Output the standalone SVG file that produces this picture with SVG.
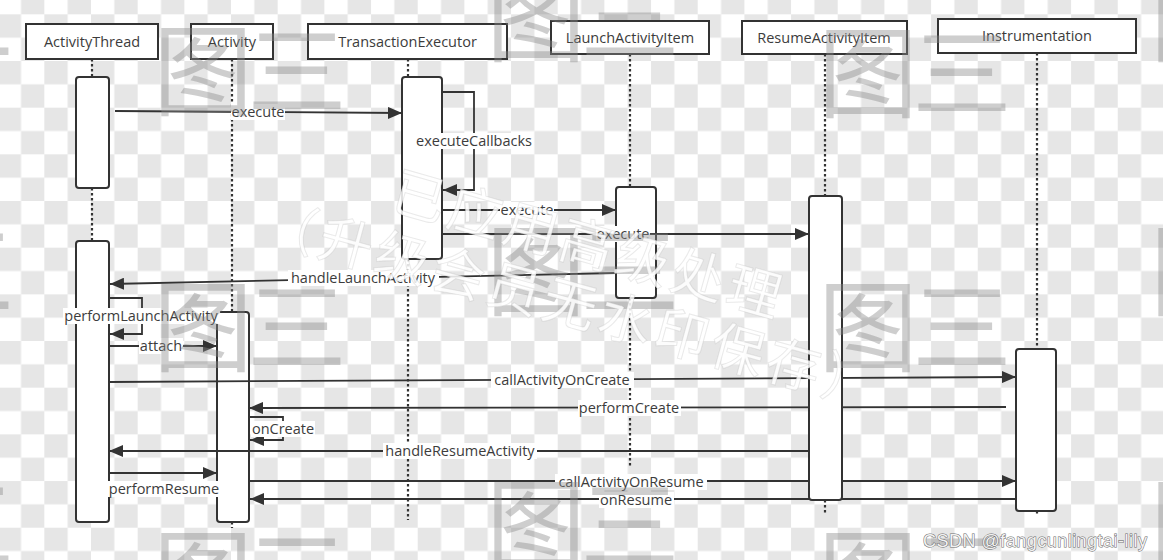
<svg xmlns="http://www.w3.org/2000/svg" width="1163" height="560" viewBox="0 0 1163 560">
<style>
.box{fill:#fff;stroke:#333;stroke-width:2}
.act{fill:#fff;stroke:#333;stroke-width:2}
.life{stroke:#333;stroke-width:2.2;stroke-dasharray:2.5 2.5;fill:none}
.msg{stroke:#333;stroke-width:1.8;fill:none}
.t{font-family:"Open Sans","Noto Sans",sans-serif;font-size:14.5px;fill:#3c3c3c;text-anchor:middle}
.lb{fill:#fff}
.wm{font-family:"Noto Sans CJK SC",sans-serif;font-size:100px;fill:#8a8a8a;fill-opacity:0.42;letter-spacing:-6px}
.wt{font-family:"Noto Sans CJK SC",sans-serif;font-size:54px;fill:#fff;fill-opacity:0.85;stroke:#aaa;stroke-opacity:0.25;stroke-width:1;text-anchor:middle;letter-spacing:4px}
</style>
<defs>
<pattern id="chk" patternUnits="userSpaceOnUse" x="-2.33" y="14.33" width="46.67" height="46.67">
<rect width="46.67" height="46.67" fill="#fff"/>
<rect width="23.33" height="23.33" fill="#e6e6e6"/>
<rect x="23.33" y="23.33" width="23.33" height="23.33" fill="#e6e6e6"/>
</pattern>
<marker id="arr" markerUnits="userSpaceOnUse" markerWidth="14" markerHeight="12" refX="14" refY="6" orient="auto">
<path d="M0,0 L14,6 L0,12 z" fill="#333"/>
</marker>
<text id="wm" class="wm" x="0" y="0">图三</text>
</defs>
<rect width="1163" height="560" fill="url(#chk)"/>

<g id="node-ActivityThread">
<path class="life" d="M92,59 V77 M92,188 V241"/>
<rect class="box" x="26" y="24" width="132" height="35"/>
<text class="t" x="92" y="47">ActivityThread</text>
<rect class="act" x="76" y="77" width="33" height="111" rx="3"/>
<rect class="act" x="76" y="241" width="33" height="281" rx="3"/>
</g>
<g id="node-Activity">
<path class="life" d="M232,59 V312 M232,522 V528"/>
<rect class="box" x="191" y="24" width="82" height="35"/>
<text class="t" x="232" y="47">Activity</text>
<rect class="act" x="217" y="312" width="32" height="210" rx="3"/>
</g>
<g id="node-TransactionExecutor">
<path class="life" d="M408,59 V77 M408,259 V520"/>
<rect class="box" x="308" y="24" width="199" height="35"/>
<text class="t" x="407.5" y="47">TransactionExecutor</text>
<rect class="act" x="402" y="77" width="40" height="182" rx="3"/>
</g>
<g id="node-LaunchActivityItem">
<path class="life" d="M630,54 V187 M630,298 V468"/>
<rect class="box" x="551" y="21" width="158" height="33"/>
<text class="t" x="630" y="43">LaunchActivityItem</text>
<rect class="act" x="616" y="187" width="40" height="111" rx="3"/>
</g>
<g id="node-Instrumentation">
<path class="life" d="M1037,53 V349 M1037,511 V514"/>
<rect class="box" x="938" y="19" width="198" height="34"/>
<text class="t" x="1037" y="41">Instrumentation</text>
<rect class="act" x="1016" y="349" width="40" height="162" rx="3"/>
</g>
<g id="node-ResumeActivityItem-head">
<path class="life" d="M825,54 V196 M825,500 V514"/>
<rect class="box" x="742" y="21" width="165" height="33"/>
<text class="t" x="824" y="43">ResumeActivityItem</text>
</g>

<g id="connectors">
<path class="msg" marker-end="url(#arr)" d="M115,111 L402,113"/>
<path class="msg" marker-end="url(#arr)" d="M442,92 H474 V190 H443"/>
<path class="msg" marker-end="url(#arr)" d="M442,210 H616"/>
<path class="msg" marker-end="url(#arr)" d="M442,234 H809"/>
<path class="msg" marker-end="url(#arr)" d="M616,273 L110,284"/>
<path class="msg" marker-end="url(#arr)" d="M109,298 H142 V334 H110"/>
<path class="msg" marker-end="url(#arr)" d="M109,346 H217"/>
<path class="msg" marker-end="url(#arr)" d="M109,382 L1016,377"/>
<path class="msg" marker-end="url(#arr)" d="M1006,407 L249,408"/>
<path class="msg" marker-end="url(#arr)" d="M249,417 H283 V440 H250"/>
<path class="msg" marker-end="url(#arr)" d="M809,451 H109"/>
<path class="msg" marker-end="url(#arr)" d="M109,473 H217"/>
<path class="msg" marker-end="url(#arr)" d="M249,481 H1016"/>
<path class="msg" marker-end="url(#arr)" d="M1016,499 H250"/>

<rect class="lb" x="231" y="104" width="54" height="16"/>
<text class="t" x="258" y="117">execute</text>
<rect class="lb" x="415" y="133" width="118" height="16"/>
<text class="t" x="474" y="146">executeCallbacks</text>
<rect class="lb" x="500" y="202" width="54" height="16"/>
<text class="t" x="527" y="215">execute</text>
<rect class="lb" x="596" y="226" width="54" height="16"/>
<text class="t" x="623" y="239">execute</text>
<rect class="lb" x="288" y="270" width="151" height="16"/>
<text class="t" x="363" y="283">handleLaunchActivity</text>
<rect class="lb" x="63" y="308" width="157" height="16"/>
<text class="t" x="141" y="321">performLaunchActivity</text>
<rect class="lb" x="139" y="338" width="44" height="16"/>
<text class="t" x="161" y="351">attach</text>
<rect class="lb" x="491" y="372" width="143" height="16"/>
<text class="t" x="562" y="385">callActivityOnCreate</text>
<rect class="lb" x="578" y="400" width="103" height="16"/>
<text class="t" x="629" y="413">performCreate</text>
<rect class="lb" x="251" y="421" width="64" height="16"/>
<text class="t" x="283" y="434">onCreate</text>
<rect class="lb" x="383" y="443" width="154" height="16"/>
<text class="t" x="460" y="456">handleResumeActivity</text>
<rect class="lb" x="108" y="481" width="112" height="16"/>
<text class="t" x="164" y="494">performResume</text>
<rect class="lb" x="555" y="474" width="152" height="16"/>
<text class="t" x="631" y="487">callActivityOnResume</text>
<rect class="lb" x="599" y="492" width="75" height="16"/>
<text class="t" x="636" y="505">onResume</text>
</g>

<g id="node-ResumeActivityItem-activation">
<rect class="act" x="809" y="196" width="33" height="304" rx="3"/>
</g>

<g id="watermark">
<use href="#wm" x="153" y="108"/><use href="#wm" x="153" y="364"/><use href="#wm" x="153" y="613"/>
<use href="#wm" x="818" y="110"/><use href="#wm" x="818" y="364"/><use href="#wm" x="818" y="613"/>
<use href="#wm" x="486" y="54"/><use href="#wm" x="486" y="308"/><use href="#wm" x="486" y="562"/>
<use href="#wm" x="-179" y="54"/><use href="#wm" x="-179" y="308"/><use href="#wm" x="-179" y="562"/>
<use href="#wm" x="1150" y="54"/><use href="#wm" x="1150" y="308"/><use href="#wm" x="1150" y="562"/>
<text class="wt" x="590" y="241" dominant-baseline="central" transform="rotate(15.8 590 241)">已应用高级处理</text>
<text class="wt" x="573" y="301" dominant-baseline="central" transform="rotate(15.3 573 301)">（升级会员无水印保存）</text>
</g>
<text x="923" y="547" textLength="224" font-family="'Liberation Sans',Arial,sans-serif" font-size="18" fill="#f2f2f2" stroke="#6a6a6a" stroke-width="1" paint-order="stroke">CSDN @fangcunlingtai-lily</text>
</svg>
